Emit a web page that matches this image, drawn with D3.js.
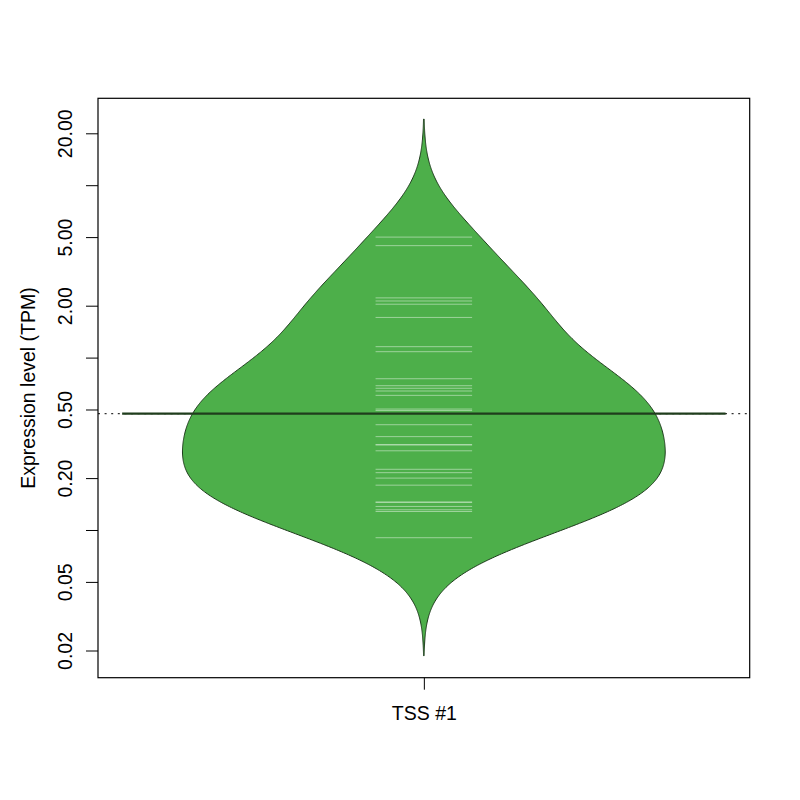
<!DOCTYPE html>
<html lang="en">
<head>
<meta charset="UTF-8">
<script src="https://d3js.org/d3.v7.min.js"></script>
<title>beanplot</title>
<style>
    body { margin: 0; background: #fff; }
    text { font-family: "Liberation Sans", Arial, sans-serif; fill: #000; }
</style>
</head>
<body>
<script>
    var w = 800,
        h = 800;

    // data
    var categories = ["TSS #1"];
    var tpm = [5.0, 4.46, 2.22, 2.13, 2.04, 1.71, 1.157, 1.082, 0.754, 0.687,
        0.664, 0.640, 0.604, 0.503, 0.493, 0.408, 0.348, 0.312, 0.312, 0.288,
        0.225, 0.215, 0.2, 0.182, 0.145, 0.145, 0.137, 0.131, 0.128, 0.0902];
    var beanAverage = 0.473;   // solid bean line / dotted overall line
    var yTicks = [0.02, 0.05, 0.1, 0.2, 0.5, 1, 2, 5, 10, 20];
    var yTickLabels = ["0.02", "0.05", "", "0.20", "0.50", "", "2.00", "5.00", "", "20.00"];
    var bandwidth = 0.228; // kernel bandwidth, log10 units

    var box = { left: 98, right: 749.7, top: 98.3, bottom: 677.7 };

    var svg = d3.select("body").append("svg")
        .attr("width", w)
        .attr("height", h);

    var y = d3.scaleLog().domain([0.02, 20]).range([650.5, 133.3]);
    var x = d3.scaleLinear().domain([0.46, 1.54]).range([box.left, box.right]);

    // density of log values
    var logs = tpm.map(function(d) { return Math.log10(d); });
    var lo = d3.min(logs) - 3 * bandwidth,
        hi = d3.max(logs) + 3 * bandwidth;
    var grid = d3.range(512).map(function(i) { return lo + (hi - lo) * i / 511; });
    var dens = grid.map(function(g) {
        return [g, d3.mean(logs, function(l) {
            var u = (g - l) / bandwidth;
            return Math.exp(-0.5 * u * u);
        })];
    });
    var half = d3.scaleLinear().domain([0, d3.max(dens, function(d) { return d[1]; })]).range([0, 0.4]);

    var g = svg.append("g");

    // overall line (dotted)
    g.append("line")
        .attr("x1", box.left).attr("x2", box.right)
        .attr("y1", y(beanAverage)).attr("y2", y(beanAverage))
        .attr("stroke", "#333")
        .attr("stroke-width", 1.3)
        .attr("stroke-dasharray", "2,4.6");

    // bean
    var area = d3.area()
        .y(function(d) { return y(Math.pow(10, d[0])); })
        .x0(function(d) { return x(1 - half(d[1])); })
        .x1(function(d) { return x(1 + half(d[1])); });
    g.append("path")
        .datum(dens)
        .attr("d", area)
        .attr("fill", "#4DAF4A")
        .attr("stroke", "#1d3a1b")
        .attr("stroke-width", 1);

    // bean lines
    g.selectAll("line.bl").data(tpm).enter().append("line")
        .attr("class", "bl")
        .attr("x1", x(0.92)).attr("x2", x(1.08))
        .attr("y1", function(d) { return y(d); })
        .attr("y2", function(d) { return y(d); })
        .attr("stroke", "#fff")
        .attr("stroke-opacity", 0.45)
        .attr("stroke-width", 1);

    // bean average line
    g.append("line")
        .attr("x1", x(0.5)).attr("x2", x(1.5))
        .attr("y1", y(beanAverage)).attr("y2", y(beanAverage))
        .attr("stroke", "#1f3d1c")
        .attr("stroke-width", 2.3);

    // axes
    var yAxis = d3.axisLeft(y)
        .tickValues(yTicks)
        .tickFormat(function(d, i) { return yTickLabels[i]; })
        .tickSize(12);
    var ya = svg.append("g")
        .attr("transform", "translate(" + box.left + ",0)")
        .call(yAxis);
    ya.select(".domain").remove();
    ya.selectAll("line").attr("stroke", "#000");
    ya.selectAll("text")
        .attr("x", null).attr("dy", null)
        .attr("transform", "translate(-26.3,0) rotate(-90)")
        .attr("text-anchor", "middle")
        .style("font-size", "19.5px")
        .style("font-family", "'Liberation Sans', Arial, sans-serif");

    var xAxis = d3.axisBottom(x)
        .tickValues([1])
        .tickFormat(function() { return categories[0]; })
        .tickSize(12);
    var xa = svg.append("g")
        .attr("transform", "translate(0," + box.bottom + ")")
        .call(xAxis);
    xa.select(".domain").remove();
    xa.selectAll("line").attr("stroke", "#000");
    xa.selectAll("text")
        .attr("y", 42.3).attr("dy", null)
        .style("font-size", "19.5px")
        .style("font-family", "'Liberation Sans', Arial, sans-serif");

    // box
    svg.append("rect")
        .attr("x", box.left).attr("y", box.top)
        .attr("width", box.right - box.left)
        .attr("height", box.bottom - box.top)
        .attr("fill", "none")
        .attr("stroke", "#000")
        .attr("stroke-width", 1.2);

    svg.append("text")
        .attr("transform", "translate(35," + (box.top + box.bottom) / 2 + ") rotate(-90)")
        .attr("text-anchor", "middle")
        .style("font-size", "19.5px")
        .text("Expression level (TPM)");
</script>
</body>
</html>
